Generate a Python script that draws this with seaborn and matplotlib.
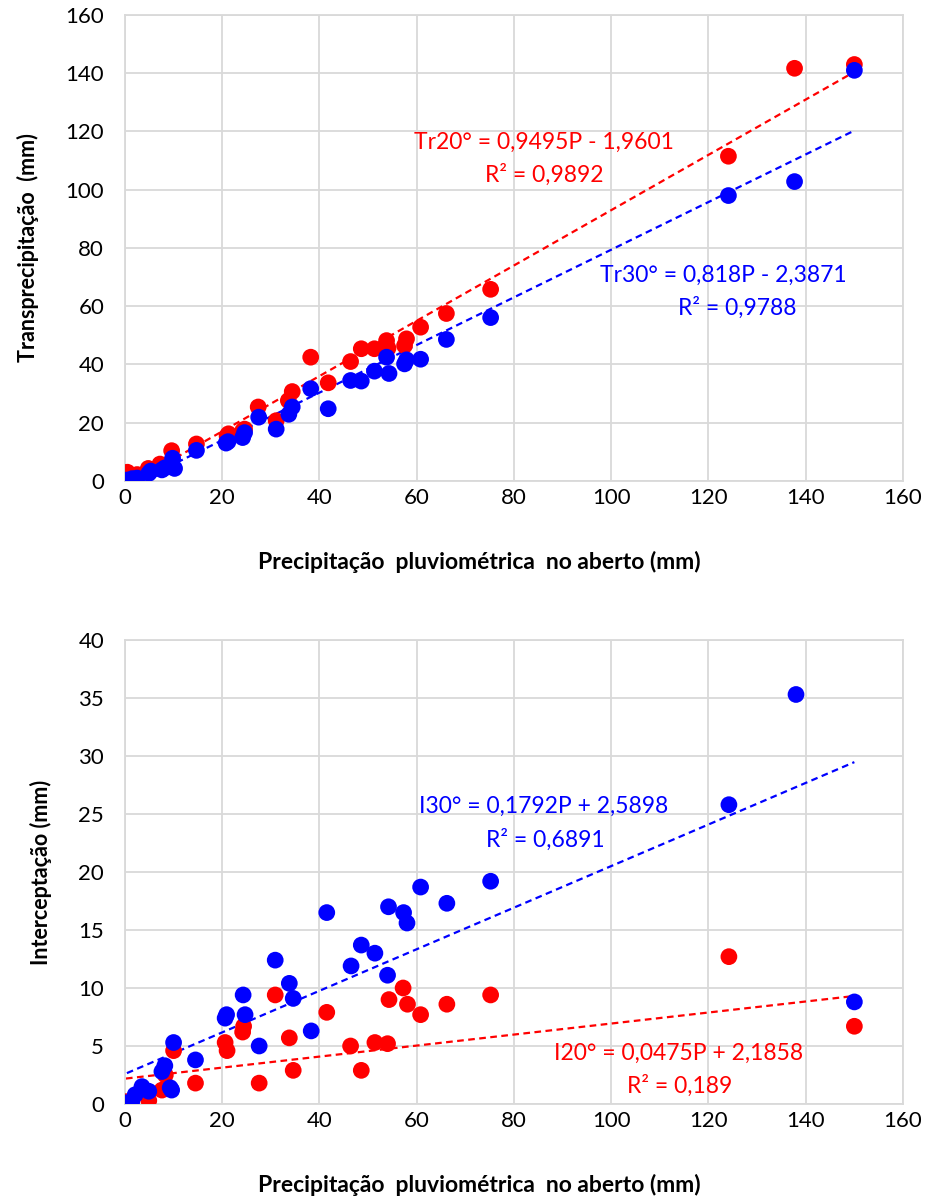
import numpy as np
import pandas as pd
import matplotlib
matplotlib.use("Agg")
import matplotlib.pyplot as plt
import seaborn as sns

# ---------------- data ----------------
# Top chart: throughfall (Transprecipitação) vs open-field precipitation
tr20_P = [0.5, 2.5, 4.8, 7.2, 9.6, 14.7, 21.0, 21.3, 24.2, 24.6, 27.4, 31.1, 33.6, 34.4,
          38.2, 41.8, 46.4, 48.6, 51.3, 53.8, 54.1, 57.5, 57.9, 60.8, 66.1, 75.2,
          124.1, 137.7, 150.0]
tr20_v = [3.0, 2.2, 4.3, 5.8, 10.4, 12.7, 15.5, 16.2, 17.2, 17.8, 25.4, 20.7, 27.6, 30.7,
          42.5, 33.7, 41.0, 45.4, 45.4, 48.2, 45.6, 46.5, 48.8, 52.8, 57.5, 65.8,
          111.5, 141.7, 143.0]

tr30_P = [0.4, 1.5, 2.5, 4.9, 5.3, 7.6, 8.2, 9.8, 10.2, 14.7, 20.8, 21.2, 24.2, 24.6,
          27.5, 31.1, 33.7, 34.4, 38.2, 41.8, 46.4, 48.6, 51.3, 53.8, 54.3, 57.5,
          57.9, 60.8, 66.1, 75.2, 124.1, 137.7, 150.0]
tr30_v = [0.3, 0.8, 1.0, 2.6, 3.4, 3.8, 4.5, 7.8, 4.3, 10.5, 13.0, 13.5, 14.9, 16.6,
          21.9, 17.8, 22.9, 25.4, 31.7, 24.8, 34.5, 34.3, 37.7, 42.5, 36.9, 40.2,
          41.6, 41.8, 48.6, 56.1, 98.0, 102.8, 141.0]

# Bottom chart: interception vs open-field precipitation
i20_P = [0.2, 4.9, 7.6, 8.3, 10.0, 14.5, 20.6, 21.0, 24.2, 24.4, 27.6, 30.9, 33.8, 34.6,
         41.5, 46.4, 48.6, 51.4, 54.0, 54.3, 57.2, 58.1, 60.8, 66.2, 75.2, 124.2, 150.0]
i20_v = [0.2, 0.3, 1.2, 2.5, 4.6, 1.8, 5.3, 4.6, 6.2, 6.7, 1.8, 9.4, 5.7, 2.9,
         7.9, 5.0, 2.9, 5.3, 5.2, 9.0, 10.0, 8.6, 7.7, 8.6, 9.4, 12.7, 6.7]

i30_P = [0.4, 1.4, 2.1, 3.5, 4.9, 7.6, 8.2, 9.3, 9.6, 10.0, 14.5, 20.6, 20.9, 24.3, 24.7,
         27.6, 30.9, 33.8, 34.6, 38.3, 41.5, 46.5, 48.6, 51.4, 54.0, 54.2, 57.3, 58.0,
         60.8, 66.2, 75.2, 124.2, 138.0, 150.0]
i30_v = [0.1, 0.2, 0.8, 1.5, 1.1, 2.8, 3.3, 1.4, 1.2, 5.3, 3.8, 7.4, 7.7, 9.4, 7.7,
         5.0, 12.4, 10.4, 9.1, 6.3, 16.5, 11.9, 13.7, 13.0, 11.1, 17.0, 16.5, 15.6,
         18.7, 17.3, 19.2, 25.8, 35.3, 8.8]

# Trend line coefficients (slope, intercept) as shown on the chart
tr20_fit = (0.9495, -1.9601)
tr30_fit = (0.818, -2.3871)
i20_fit = (0.0475, 2.1858)
i30_fit = (0.1792, 2.5898)

top_labels = ["Tr20° = 0,9495P - 1,9601", "R² = 0,9892",
              "Tr30° = 0,818P - 2,3871", "R² = 0,9788"]
bot_labels = ["I30° = 0,1792P + 2,5898", "R² = 0,6891",
              "I20° = 0,0475P + 2,1858", "R² = 0,189"]

xlabel = "Precipitação  pluviométrica  no aberto (mm)"
ylabel_top = "Transprecipitação  (mm)"
ylabel_bot = "Interceptação (mm)"

# ---------------- style ----------------
sns.set_theme(style="whitegrid")
plt.rcParams["font.family"] = ["Lato", "DejaVu Sans"]

RED = "#FF0000"
BLUE = "#0000FF"
GRID = "#D9D9D9"
MS = 145
FS_TICK = 16
FS_ANN = 16.5

fig = plt.figure(figsize=(9.27, 12.0), dpi=100)
ax1 = fig.add_axes([0.1348, 0.5992, 0.8393, 0.3883])
ax2 = fig.add_axes([0.1348, 0.0800, 0.8393, 0.3867])


def style_axes(ax, ymax, ystep, ylabel):
    ax.set_xlim(0, 160)
    ax.set_ylim(0, ymax)
    ax.set_xticks(np.arange(0, 161, 20))
    ax.set_yticks(np.arange(0, ymax + 0.1, ystep))
    ax.grid(True, color=GRID, linewidth=1.3)
    ax.set_axisbelow(True)
    for sp in ax.spines.values():
        sp.set_visible(True)
        sp.set_color(GRID)
        sp.set_linewidth(1.3)
    ax.tick_params(axis="both", length=0, labelsize=FS_TICK, colors="#000000")
    ax.tick_params(axis="y", pad=15)
    ax.tick_params(axis="x", pad=5)
    ax.set_xlabel(xlabel, fontsize=16.5, fontweight="bold", color="#000000")
    ax.xaxis.set_label_coords(0.455, -0.150)
    ax.set_ylabel(ylabel, fontsize=15.5, fontweight="bold", labelpad=19, color="#000000")


def trend(ax, P, fit, color):
    xs = np.array([min(P), max(P)])
    ax.plot(xs, fit[0] * xs + fit[1], color=color, linewidth=1.6,
            linestyle=(0, (3, 2)), zorder=2)


# ---- top chart ----
sns.scatterplot(x=tr20_P, y=tr20_v, color=RED, s=MS, edgecolor="none", ax=ax1, zorder=3)
sns.scatterplot(x=tr30_P, y=tr30_v, color=BLUE, s=MS, edgecolor="none", ax=ax1, zorder=4)
trend(ax1, tr20_P, tr20_fit, RED)
trend(ax1, tr30_P, tr30_fit, BLUE)
style_axes(ax1, 160, 20, ylabel_top)
ax1.text(86.2, 116.4, top_labels[0], color=RED, fontsize=FS_ANN, ha="center", va="center")
ax1.text(86.2, 105.1, top_labels[1], color=RED, fontsize=FS_ANN, ha="center", va="center")
ax1.text(123.0, 70.7, top_labels[2], color=BLUE, fontsize=FS_ANN, ha="center", va="center")
ax1.text(125.9, 59.4, top_labels[3], color=BLUE, fontsize=FS_ANN, ha="center", va="center")

# ---- bottom chart ----
sns.scatterplot(x=i20_P, y=i20_v, color=RED, s=MS, edgecolor="none", ax=ax2, zorder=3)
sns.scatterplot(x=i30_P, y=i30_v, color=BLUE, s=MS, edgecolor="none", ax=ax2, zorder=4)
trend(ax2, i20_P, i20_fit, RED)
trend(ax2, i30_P, i30_fit, BLUE)
style_axes(ax2, 40, 5, ylabel_bot)
ax2.text(86.0, 25.7, bot_labels[0], color=BLUE, fontsize=FS_ANN, ha="center", va="center")
ax2.text(86.4, 22.8, bot_labels[1], color=BLUE, fontsize=FS_ANN, ha="center", va="center")
ax2.text(113.9, 4.4, bot_labels[2], color=RED, fontsize=FS_ANN, ha="center", va="center")
ax2.text(114.1, 1.6, bot_labels[3], color=RED, fontsize=FS_ANN, ha="center", va="center")

fig.savefig("out.png", dpi=100)
